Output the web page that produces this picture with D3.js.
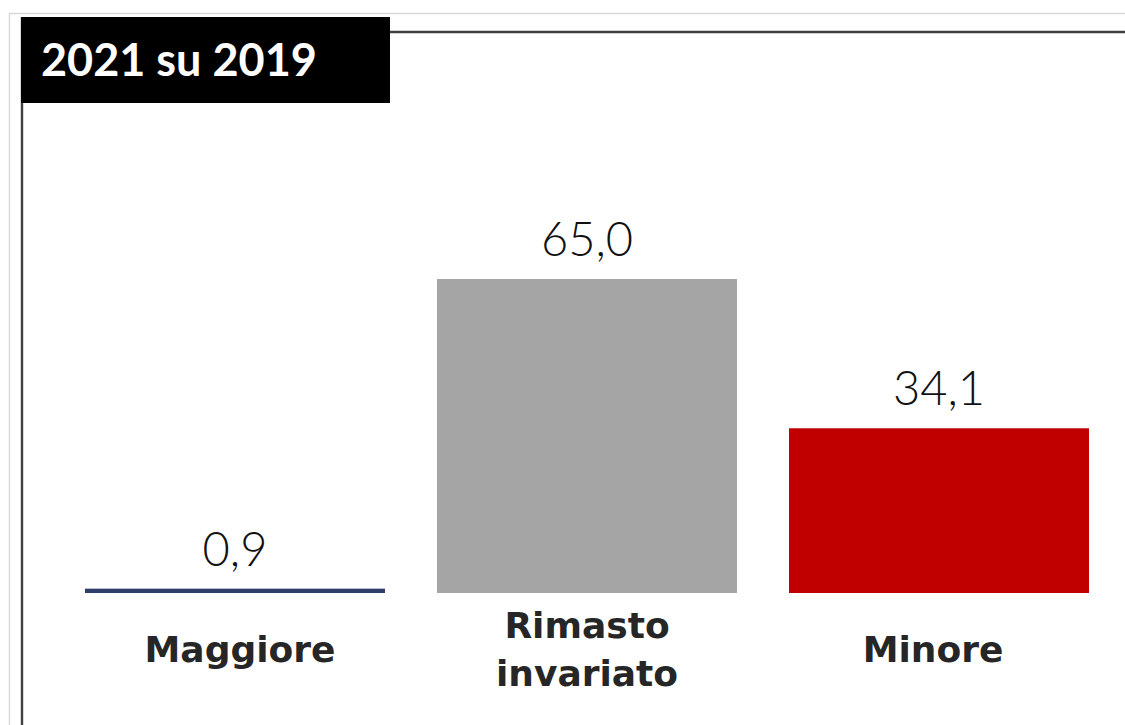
<!DOCTYPE html>
<html>
<head>
<meta charset="utf-8">
<script src="https://cdn.jsdelivr.net/npm/d3@7"></script>
<style>
  html, body { margin: 0; padding: 0; background: #ffffff; }
  svg { display: block; }
</style>
</head>
<body>
<svg id="chart" width="1125" height="725"></svg>
<script>
// ---- data ----
const title = "2021 su 2019";
const categories = ["Maggiore", "Rimasto invariato", "Minore"];
const categoryLines = [["Maggiore"], ["Rimasto", "invariato"], ["Minore"]];
const values = [0.9, 65.0, 34.1];
const colors = ["#2f3f6b", "#a5a5a5", "#c00000"];

const W = 1125, H = 725;
const svg = d3.select("#chart");

// frames
svg.append("rect")
  .attr("x", 9.5).attr("y", 13.5).attr("width", W + 20).attr("height", H - 4)
  .attr("fill", "none").attr("stroke", "#d9d9d9").attr("stroke-width", 1.5);

svg.append("line").attr("x1", 22).attr("x2", 22).attr("y1", 17).attr("y2", H)
  .attr("stroke", "#404040").attr("stroke-width", 2.4);
svg.append("line").attr("x1", 390).attr("x2", W).attr("y1", 32).attr("y2", 32)
  .attr("stroke", "#404040").attr("stroke-width", 2.4);

// title box
svg.append("rect").attr("x", 21).attr("y", 17).attr("width", 369).attr("height", 86)
  .attr("fill", "#000000");
svg.append("text").attr("x", 41).attr("y", 76)
  .attr("fill", "#ffffff")
  .attr("font-family", "Lato, 'DejaVu Sans', sans-serif")
  .attr("font-weight", 700).attr("font-size", 45)
  .text(title);

// scales
const x = d3.scaleBand().domain(categories).range([59, 1115])
  .paddingInner(52 / 352).paddingOuter(26 / 352);
const baseY = 593;
const y = d3.scaleLinear().domain([0, 65]).range([baseY, 279]);

const g = svg.append("g");
g.selectAll("rect.bar").data(values).join("rect")
  .attr("class", "bar")
  .attr("x", (d, i) => x(categories[i]))
  .attr("width", x.bandwidth())
  .attr("y", d => y(d))
  .attr("height", d => baseY - y(d))
  .attr("fill", (d, i) => colors[i]);

const fmt = d => d3.format(".1f")(d).replace(".", ",");
g.selectAll("text.val").data(values).join("text")
  .attr("class", "val")
  .attr("x", (d, i) => x(categories[i]) + x.bandwidth() / 2)
  .attr("y", d => y(d) - 23)
  .attr("text-anchor", "middle")
  .attr("fill", "#111111")
  .attr("font-family", "Lato, sans-serif")
  .attr("font-weight", 300).attr("font-size", 47)
  .text(fmt);

// category labels
const labelShift = [5, 0, -6];
const lab = g.selectAll("text.cat").data(categoryLines).join("text")
  .attr("class", "cat")
  .attr("text-anchor", "middle")
  .attr("fill", "#262626")
  .attr("font-family", "'DejaVu Sans', sans-serif")
  .attr("font-weight", 700).attr("font-size", 36)
  .attr("transform", (d, i) => `translate(${x(categories[i]) + x.bandwidth() / 2 + labelShift[i]},0)`);
lab.each(function(lines) {
  const t = d3.select(this);
  const n = lines.length;
  lines.forEach((s, j) => {
    t.append("tspan").attr("x", 0)
      .attr("y", 662 + (j - (n - 1) / 2) * 48)
      .text(s);
  });
});
</script>
</body>
</html>
